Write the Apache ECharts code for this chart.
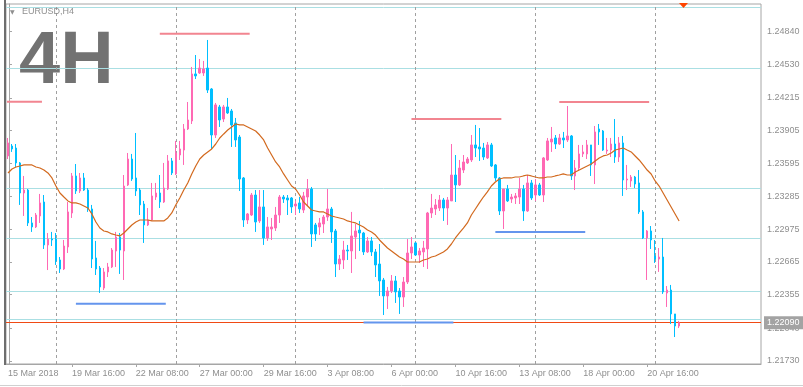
<!DOCTYPE html>
<html><head><meta charset="utf-8">
<script src="https://cdn.jsdelivr.net/npm/echarts@6.0.0/dist/echarts.min.js"></script>
<style>html,body{margin:0;padding:0;background:#fff;}#c{width:803px;height:387px;}</style>
</head><body><div id="c"></div>
<script>
// ---- data (EURUSD H4) ----
const xTickLabels = ['15 Mar 2018','19 Mar 16:00','22 Mar 08:00','27 Mar 00:00','29 Mar 16:00','3 Apr 08:00','6 Apr 00:00','10 Apr 16:00','13 Apr 08:00','18 Apr 00:00','20 Apr 16:00'];
const yTickValues = [1.24840,1.24530,1.24215,1.23905,1.23595,1.23285,1.22975,1.22665,1.22355,1.22040,1.21730];
const openP = [1.23666,1.23760,1.23741,1.23600,1.23316,1.23344,1.23033,1.22995,1.23099,1.23231,1.22825,1.22881,1.22881,1.22683,1.22598,1.22806,1.23127,1.23477,1.23335,1.23458,1.23344,1.23165,1.22702,1.22607,1.22418,1.22570,1.22617,1.22768,1.22900,1.22768,1.23392,1.23637,1.23458,1.23344,1.23212,1.23014,1.23061,1.23278,1.23316,1.23231,1.23354,1.23619,1.23496,1.23675,1.23722,1.23921,1.23997,1.24441,1.24450,1.24450,1.24497,1.24299,1.23864,1.24129,1.24015,1.24129,1.24091,1.23978,1.23845,1.23458,1.23061,1.23108,1.23297,1.23052,1.23184,1.22891,1.22976,1.22985,1.23108,1.23278,1.23269,1.23269,1.23193,1.23222,1.23155,1.23278,1.23354,1.23014,1.22995,1.23023,1.23089,1.23165,1.22957,1.22645,1.22683,1.22777,1.22768,1.22900,1.22966,1.22938,1.22759,1.22863,1.22759,1.22645,1.22494,1.22343,1.22390,1.22485,1.22390,1.22333,1.22475,1.22749,1.22844,1.22730,1.22759,1.22787,1.23127,1.23165,1.23174,1.23250,1.23174,1.23241,1.23486,1.23392,1.23533,1.23600,1.23628,1.23770,1.23751,1.23741,1.23647,1.23770,1.23581,1.23458,1.23146,1.23354,1.23259,1.23269,1.23278,1.23354,1.23146,1.23411,1.23297,1.23392,1.23297,1.23628,1.23798,1.23836,1.23779,1.23836,1.23817,1.23855,1.23477,1.23552,1.23685,1.23685,1.23770,1.23581,1.23921,1.23902,1.23713,1.23722,1.23779,1.23656,1.23789,1.23439,1.23430,1.23467,1.23411,1.23137,1.22891,1.22957,1.22721,1.22692,1.22711,1.22371,1.22399,1.22173,1.22059];
const closeP = [1.23789,1.23732,1.23600,1.23316,1.23344,1.23033,1.22995,1.23108,1.23222,1.22825,1.22881,1.22872,1.22674,1.22598,1.22815,1.23137,1.23477,1.23335,1.23458,1.23344,1.23165,1.22692,1.22598,1.22428,1.22570,1.22617,1.22777,1.22900,1.22777,1.23382,1.23637,1.23448,1.23335,1.23203,1.23014,1.23061,1.23288,1.23316,1.23231,1.23363,1.23619,1.23505,1.23694,1.23732,1.23921,1.24006,1.24441,1.24422,1.24497,1.24488,1.24289,1.23864,1.24148,1.24006,1.24129,1.24072,1.23959,1.23817,1.23448,1.23061,1.23118,1.23297,1.23042,1.23184,1.22891,1.22995,1.22995,1.23108,1.23278,1.23259,1.23250,1.23184,1.23212,1.23165,1.23288,1.23354,1.22929,1.22929,1.23033,1.23089,1.23165,1.22948,1.22645,1.22692,1.22777,1.22768,1.22910,1.22957,1.22938,1.22759,1.22863,1.22759,1.22636,1.22485,1.22343,1.22390,1.22485,1.22381,1.22333,1.22475,1.22749,1.22806,1.22730,1.22768,1.22796,1.23127,1.23174,1.23203,1.23250,1.23174,1.23250,1.23486,1.23392,1.23552,1.23609,1.23637,1.23770,1.23741,1.23732,1.23656,1.23770,1.23571,1.23458,1.23146,1.23354,1.23241,1.23278,1.23288,1.23354,1.23146,1.23411,1.23269,1.23392,1.23297,1.23647,1.23808,1.23826,1.23779,1.23836,1.23817,1.23855,1.23477,1.23552,1.23685,1.23704,1.23770,1.23581,1.23893,1.23893,1.23722,1.23722,1.23779,1.23656,1.23789,1.23439,1.23448,1.23467,1.23401,1.23137,1.22891,1.22957,1.22872,1.22692,1.22711,1.22381,1.22399,1.22173,1.22059,1.22090];
const lowP = [1.23637,1.23704,1.23562,1.23203,1.23099,1.23004,1.22948,1.22985,1.23033,1.22787,1.22588,1.22815,1.22636,1.22560,1.22588,1.22749,1.23080,1.23307,1.23316,1.23335,1.23137,1.22607,1.22541,1.22371,1.22399,1.22522,1.22607,1.22617,1.22551,1.22494,1.23382,1.23430,1.23288,1.23108,1.22844,1.23004,1.23052,1.23250,1.23174,1.23222,1.23344,1.23486,1.23486,1.23628,1.23581,1.23911,1.23968,1.24393,1.24441,1.24422,1.24261,1.23732,1.23836,1.23940,1.23987,1.24063,1.23751,1.23751,1.23335,1.22995,1.23023,1.23099,1.22948,1.23033,1.22825,1.22863,1.22872,1.22957,1.23033,1.23222,1.23108,1.23127,1.23108,1.23127,1.23127,1.23193,1.22806,1.22863,1.22919,1.22938,1.23052,1.22844,1.22522,1.22588,1.22598,1.22683,1.22560,1.22692,1.22768,1.22730,1.22749,1.22721,1.22522,1.22343,1.22163,1.22220,1.22371,1.22277,1.22173,1.22239,1.22456,1.22692,1.22721,1.22655,1.22617,1.22598,1.23080,1.23108,1.23146,1.23052,1.23014,1.23241,1.23231,1.23382,1.23505,1.23590,1.23609,1.23656,1.23619,1.23628,1.23637,1.23562,1.23430,1.23108,1.22976,1.23231,1.23222,1.23212,1.23212,1.23052,1.23137,1.23250,1.23241,1.23288,1.23231,1.23619,1.23704,1.23732,1.23770,1.23741,1.23798,1.23439,1.23344,1.23524,1.23656,1.23637,1.23477,1.23401,1.23770,1.23713,1.23685,1.23656,1.23600,1.23609,1.23288,1.23344,1.23373,1.23363,1.23118,1.22881,1.22494,1.22787,1.22655,1.22570,1.22362,1.22239,1.22078,1.21955,1.22040];
const highP = [1.23836,1.23779,1.23779,1.23609,1.23477,1.23354,1.23089,1.23127,1.23307,1.23297,1.22938,1.22948,1.22938,1.22711,1.22872,1.23231,1.23505,1.23590,1.23505,1.23505,1.23363,1.23203,1.22863,1.22626,1.22607,1.22655,1.22796,1.22948,1.22938,1.23486,1.23694,1.23685,1.23883,1.23363,1.23241,1.23174,1.23411,1.23411,1.23486,1.23600,1.23675,1.23647,1.23808,1.23808,1.23968,1.24176,1.24507,1.24620,1.24582,1.24564,1.24762,1.24308,1.24167,1.24148,1.24148,1.24214,1.24110,1.24025,1.23864,1.23467,1.23127,1.23316,1.23344,1.23344,1.23344,1.23089,1.23080,1.23184,1.23297,1.23297,1.23297,1.23278,1.23241,1.23278,1.23326,1.23448,1.23373,1.23033,1.23080,1.23108,1.23354,1.23184,1.22976,1.22730,1.22863,1.22825,1.23137,1.23023,1.23052,1.22948,1.22900,1.22900,1.22787,1.22834,1.22513,1.22428,1.22541,1.22532,1.22418,1.22522,1.22881,1.22900,1.22853,1.22796,1.22863,1.23137,1.23307,1.23259,1.23297,1.23269,1.23278,1.23779,1.23675,1.23628,1.23675,1.23656,1.23864,1.23959,1.23930,1.23789,1.23798,1.23789,1.23590,1.23467,1.23354,1.23392,1.23307,1.23316,1.23458,1.23392,1.23486,1.23439,1.23448,1.23411,1.23656,1.23836,1.23940,1.23864,1.23874,1.23893,1.24138,1.23864,1.23628,1.23770,1.23770,1.23817,1.23770,1.23949,1.23968,1.23911,1.23836,1.23836,1.24015,1.23845,1.23855,1.23581,1.23486,1.23477,1.23533,1.23155,1.22966,1.23004,1.22872,1.22796,1.22891,1.22437,1.22447,1.22173,1.22107];
const maValues = [1.23505,1.23543,1.23562,1.23571,1.23581,1.23581,1.23581,1.23562,1.23552,1.23533,1.23505,1.23458,1.23382,1.23316,1.23278,1.23241,1.23222,1.23222,1.23212,1.23193,1.23174,1.23118,1.23042,1.22985,1.22957,1.22948,1.22929,1.22919,1.22910,1.22938,1.22976,1.23014,1.23042,1.23061,1.23061,1.23061,1.23052,1.23052,1.23052,1.23052,1.23080,1.23127,1.23203,1.23269,1.23344,1.23411,1.23496,1.23571,1.23637,1.23675,1.23704,1.23732,1.23779,1.23836,1.23874,1.23911,1.23940,1.23968,1.23959,1.23959,1.23940,1.23921,1.23902,1.23864,1.23817,1.23741,1.23675,1.23609,1.23562,1.23496,1.23439,1.23382,1.23354,1.23297,1.23231,1.23193,1.23155,1.23146,1.23137,1.23137,1.23118,1.23099,1.23089,1.23080,1.23070,1.23052,1.23042,1.23033,1.23014,1.22995,1.22966,1.22948,1.22919,1.22872,1.22834,1.22796,1.22768,1.22740,1.22711,1.22692,1.22664,1.22664,1.22664,1.22664,1.22683,1.22692,1.22711,1.22721,1.22740,1.22759,1.22787,1.22834,1.22891,1.22938,1.22985,1.23033,1.23108,1.23165,1.23222,1.23278,1.23326,1.23382,1.23420,1.23448,1.23458,1.23458,1.23458,1.23467,1.23467,1.23477,1.23486,1.23477,1.23467,1.23458,1.23458,1.23467,1.23467,1.23477,1.23486,1.23496,1.23486,1.23486,1.23514,1.23533,1.23552,1.23571,1.23590,1.23619,1.23647,1.23666,1.23675,1.23694,1.23722,1.23732,1.23741,1.23722,1.23704,1.23666,1.23628,1.23581,1.23533,1.23496,1.23430,1.23382,1.23316,1.23250,1.23184,1.23118,1.23052];
const cyanLevels = [1.25074,1.24495,1.23359,1.22889,1.22388,1.22127];
const weekStartIdx = [12,42,72,102,132,162];
const resistanceSegs = [[-0.5,8.25,1.24179],[37.75,60.25,1.24822],[100.75,123.25,1.24015],[137.75,160.25,1.24176]];
const supportSegs = [[16.75,39.25,1.22270],[88.75,111.25,1.22092],[121.75,144.25,1.22948]];
const lastPrice = 1.22090;
const slotCount = 189;

// ---- chart ----
const chart = echarts.init(document.getElementById('c'), null, {renderer:'canvas'});
const FONT = 'Liberation Sans';
const candleData = openP.map((o,i)=>[o, closeP[i], lowP[i], highP[i]]);
const cats = Array.from({length: slotCount}, (_, i) => i);
const segSeries = [];
resistanceSegs.forEach(s => segSeries.push({type:'line', xAxisIndex:1, yAxisIndex:0, data:[[s[0],s[2]],[s[1],s[2]]], symbol:'none', silent:true, z:6, lineStyle:{color:'#f28590', width:2}}));
supportSegs.forEach(s => segSeries.push({type:'line', xAxisIndex:1, yAxisIndex:0, data:[[s[0],s[2]],[s[1],s[2]]], symbol:'none', silent:true, z:6, lineStyle:{color:'#6495ed', width:2}}));

chart.setOption({
  animation:false,
  backgroundColor:'#ffffff',
  grid:{left:6, top:4, width:755, height:360, show:true, borderColor:'#a6a6a6', borderWidth:1, backgroundColor:'transparent'},
  xAxis:[{
    type:'category', data:cats, boundaryGap:true, position:'bottom',
    axisLine:{show:true, lineStyle:{color:'#a6a6a6'}},
    axisTick:{show:true, inside:false, length:3, alignWithLabel:true, interval:(i)=> i%16===0 && i<=160 && i>0, lineStyle:{color:'#a6a6a6'}},
    axisLabel:{show:true, interval:(i)=> i%16===0 && i<=160, align:'left', margin:5, color:'#8f8f8f', fontFamily:FONT, fontSize:9,
      formatter:(v, idx)=> (idx%16===0 && xTickLabels[idx/16]) ? xTickLabels[idx/16] : ''},
    splitLine:{show:false}
  },{
    type:'value', min:-0.75, max:slotCount-0.75, show:false
  }],
  yAxis:[{
    type:'value', position:'right', min:1.21700, max:1.25102, scale:true,
    axisLine:{show:true, lineStyle:{color:'#a6a6a6'}},
    axisTick:{show:true, length:3, customValues:yTickValues, lineStyle:{color:'#a6a6a6'}},
    axisLabel:{show:true, customValues:yTickValues, margin:6, color:'#8f8f8f', fontFamily:FONT, fontSize:9, formatter:(v)=>v.toFixed(5)},
    splitLine:{show:false}
  }],
  series:[
    {
      type:'candlestick', xAxisIndex:0, yAxisIndex:0, data:candleData, barWidth:2, z:3,
      itemStyle:{color:'#ff69b4', color0:'#00bfff', borderColor:'#ff69b4', borderColor0:'#00bfff', borderWidth:1},
      markLine:{
        silent:true, symbol:['none','none'], precision:5, z:1,
        data: [
          ...cyanLevels.map(v=>({yAxis:v, lineStyle:{color:'#aadfe3', width:1, type:'solid'}, label:{show:false}})),
          ...weekStartIdx.map(i=>({xAxis:i, lineStyle:{color:'#a0a0a0', width:1, type:[3,3]}, label:{show:false}})),
          {yAxis:lastPrice, lineStyle:{color:'#f04a14', width:1, type:'solid'},
            label:{show:true, position:'end', distance:3, formatter:'1.22090', color:'#ffffff', backgroundColor:'#a3a3a3', fontFamily:FONT, fontSize:9, padding:[2,4,2,3]}}
        ]
      }
    },
    {
      type:'line', xAxisIndex:0, yAxisIndex:0, data:maValues, symbol:'none', z:5, silent:true,
      lineStyle:{color:'#d2691e', width:1.2}
    },
    ...segSeries
  ],
  graphic:[
    {type:'text', left:19, top:26, z:-1, style:{text:'4H', font:'bold 74px "Liberation Sans"', fill:'#727272'}},
    {type:'text', left:10, top:9, z:10, style:{text:'\u25BC', font:'6px "DejaVu Sans"', fill:'#8f8f8f'}},
    {type:'text', left:22, top:7, z:10, style:{text:'EURUSD,H4', font:'9px "Liberation Sans"', fill:'#8f8f8f'}},
    {type:'polygon', z:10, shape:{points:[[679,3],[688,3],[683.5,8]]}, style:{fill:'#ff4500'}},
    {type:'rect', z:10, shape:{x:4, y:0, width:2, height:365}, style:{fill:'#6e6e6e'}},
    {type:'line', z:10, shape:{x1:0, y1:385.5, x2:803, y2:385.5}, style:{stroke:'#d0d0d0', lineWidth:1}}
  ]
});
</script></body></html>
